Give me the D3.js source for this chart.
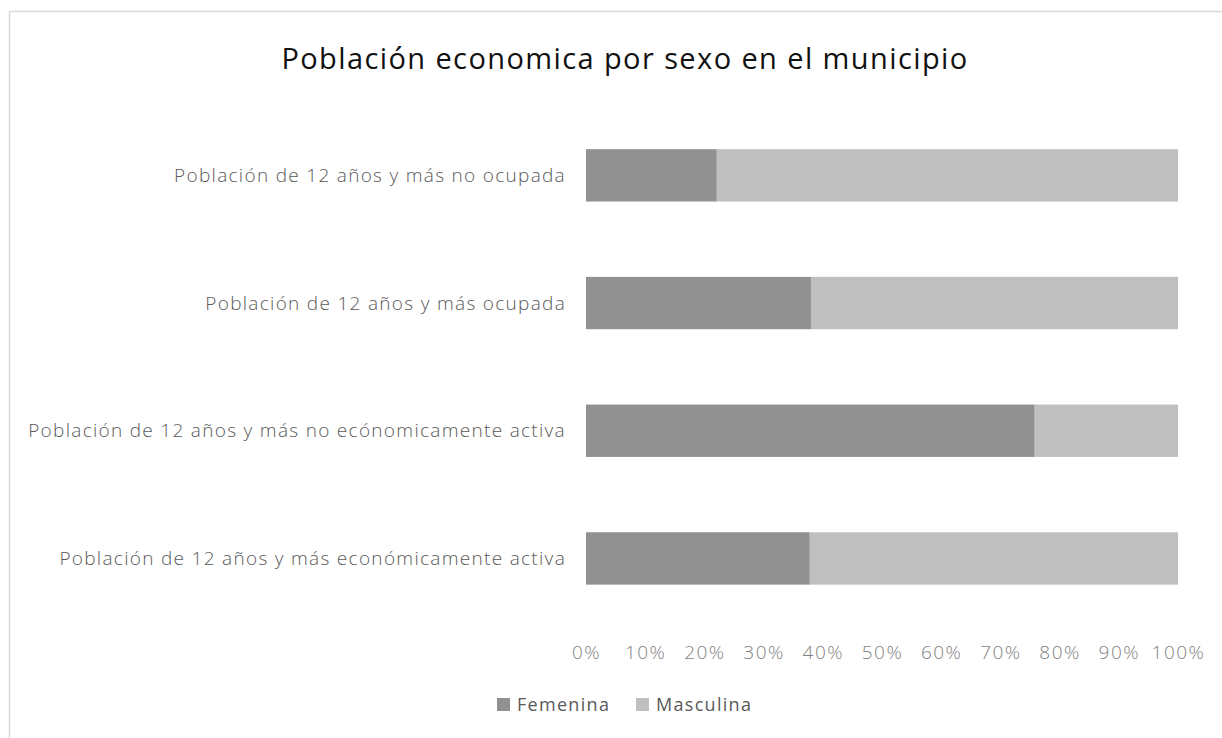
<!DOCTYPE html>
<html>
<head>
<meta charset="utf-8">
<script src="https://cdn.jsdelivr.net/npm/d3@7"></script>
<style>
  body { margin: 0; background: #fff; }
  svg text { font-family: "Open Sans", "Noto Sans", sans-serif; }
</style>
</head>
<body>
<svg id="chart" width="1222" height="738"></svg>
<script>
// chart data
const categories = [
  "Población de 12 años y más no ocupada",
  "Población de 12 años y más ocupada",
  "Población de 12 años y más no ecónomicamente activa",
  "Población de 12 años y más económicamente activa"
];
const femenina = [22.1, 38.0, 75.8, 37.8];
const masculina = [77.9, 62.0, 24.2, 62.2];
const seriesNames = ["Femenina", "Masculina"];
const tickValues = [0, 10, 20, 30, 40, 50, 60, 70, 80, 90, 100];

const colors = { Femenina: "#919191", Masculina: "#bfbfbf" };

const svg = d3.select('#chart');

// outer frame
svg.append('rect')
  .attr('x', 9.5).attr('y', 11.5)
  .attr('width', 1300).attr('height', 800)
  .attr('fill', 'none')
  .attr('stroke', '#d9d9d9')
  .attr('stroke-width', 1.5);

// title
svg.append('text')
  .attr('x', 625).attr('y', 69)
  .attr('text-anchor', 'middle')
  .attr('font-size', 29)
  .attr('letter-spacing', 1.4)
  .attr('fill', '#111')
  .text('Población economica por sexo en el municipio');

const x = d3.scaleLinear().domain([0, 100]).range([586, 1178]);
const y = d3.scaleBand()
  .domain(categories)
  .range([111.5, 622.3])
  .paddingInner(0.59)
  .paddingOuter(0.295);

const rows = categories.map((c, i) => ({ cat: c, Femenina: femenina[i], Masculina: masculina[i] }));
const stacked = d3.stack().keys(seriesNames)(rows);

svg.append('g')
  .selectAll('g')
  .data(stacked)
  .join('g')
  .attr('fill', d => colors[d.key])
  .selectAll('rect')
  .data(d => d)
  .join('rect')
  .attr('x', d => x(d[0]))
  .attr('width', d => x(d[1]) - x(d[0]))
  .attr('y', d => y(d.data.cat))
  .attr('height', y.bandwidth());

// category labels
svg.append('g')
  .selectAll('text')
  .data(categories)
  .join('text')
  .attr('x', 566)
  .attr('y', d => y(d) + y.bandwidth() / 2)
  .attr('dy', '0.35em')
  .attr('text-anchor', 'end')
  .attr('font-size', 19)
  .attr('font-weight', 300)
  .attr('letter-spacing', 1.3)
  .attr('fill', '#595959')
  .text(d => d);

// x axis
const xAxis = d3.axisBottom(x)
  .tickValues(tickValues)
  .tickFormat(d => d + '%')
  .tickSize(0)
  .tickPadding(0);

const gx = svg.append('g')
  .attr('transform', 'translate(0, 645)')
  .call(xAxis);
gx.select('.domain').remove();
gx.selectAll('text')
  .attr('font-size', 19)
  .attr('font-weight', 300)
  .attr('letter-spacing', 1.5)
  .attr('fill', '#7f7f7f')
  .style('font-family', '"Open Sans", sans-serif');

// legend
const legend = svg.append('g').attr('transform', 'translate(497, 705)');
const legendX = [0, 139];
seriesNames.forEach((s, i) => {
  const g = legend.append('g').attr('transform', `translate(${legendX[i]}, 0)`);
  g.append('rect')
    .attr('x', 0).attr('y', -7)
    .attr('width', 13).attr('height', 13)
    .attr('fill', colors[s]);
  g.append('text')
    .attr('x', 20).attr('y', 0)
    .attr('dy', '0.35em')
    .attr('font-size', 18)
    .attr('letter-spacing', 1.3)
    .attr('fill', '#595959')
    .text(s);
});
</script>
</body>
</html>
